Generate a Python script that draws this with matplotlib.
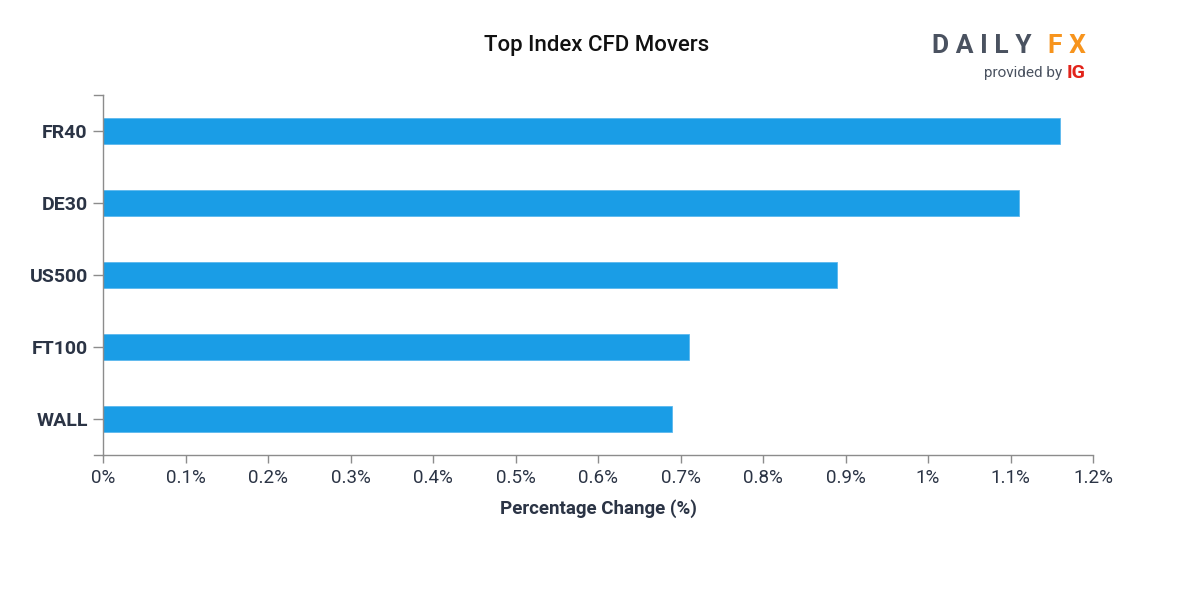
import matplotlib
matplotlib.use("Agg")
import matplotlib.pyplot as plt
from matplotlib.ticker import FuncFormatter

categories = ["FR40", "DE30", "US500", "FT100", "WALL"]
values = [1.16, 1.11, 0.89, 0.71, 0.69]
x_ticks = [0, 0.1, 0.2, 0.3, 0.4, 0.5, 0.6, 0.7, 0.8, 0.9, 1.0, 1.1, 1.2]

TEXT = "#2b3445"
AXIS = "#8c8c8c"
BAR = "#1a9de6"

plt.rcParams["font.family"] = ["Roboto", "DejaVu Sans"]

fig = plt.figure(figsize=(12, 6), dpi=100)
ax = fig.add_axes([103 / 1200, 145 / 600, 990 / 1200, 360 / 600])

y = list(range(len(categories)))
ax.barh(y, values, height=0.35, color=BAR, edgecolor="#5cb8ee", linewidth=0.6)
ax.set_ylim(len(categories) - 0.5, -0.5)
ax.set_xlim(0, 1.2)

ax.set_yticks(y)
ax.set_yticklabels(categories, fontsize=14, fontweight="bold", color=TEXT)
ax.set_xticks(x_ticks)
ax.xaxis.set_major_formatter(FuncFormatter(lambda v, p: f"{v:g}%"))
for lab in ax.get_xticklabels():
    lab.set_fontsize(13.5)
    lab.set_color(TEXT)

ax.tick_params(axis="y", length=7, width=1, color=AXIS, pad=4)
ax.tick_params(axis="x", length=6, width=1, color=AXIS, pad=4)

for side in ["top", "right"]:
    ax.spines[side].set_visible(False)
for side in ["left", "bottom"]:
    ax.spines[side].set_color(AXIS)
    ax.spines[side].set_linewidth(1)

# outer ticks like d3 domain paths
trans = ax.get_yaxis_transform()
ax.plot([-0.0088, 0], [-0.5, -0.5], transform=trans, color=AXIS, lw=1, clip_on=False)
ax.plot([-0.0088, 0], [4.5, 4.5], transform=trans, color=AXIS, lw=1, clip_on=False)

ax.set_xlabel("Percentage Change (%)", fontsize=13.5, fontweight="bold", color=TEXT, labelpad=9)

fig.text(597 / 1200, 1 - 46 / 600, "Top Index CFD Movers", ha="center", va="center",
         fontsize=16, fontweight="medium", color="#111111")

# logo
fig.text(932 / 1200, 1 - 46 / 600, "D A I L Y", ha="left", va="center",
         fontsize=19, fontweight="bold", color="#4a5260")
fig.text(1086 / 1200, 1 - 46 / 600, "F X", ha="right", va="center",
         fontsize=19, fontweight="bold", color="#f7941d")
fig.text(1062 / 1200, 1 - 73 / 600, "provided by", ha="right", va="center",
         fontsize=11, color="#4a5260")
fig.text(1086 / 1200, 1 - 73 / 600, "IG", ha="right", va="center",
         fontsize=14, fontweight="bold", color="#e2231a")

fig.savefig("out.png", dpi=100, facecolor="white")
